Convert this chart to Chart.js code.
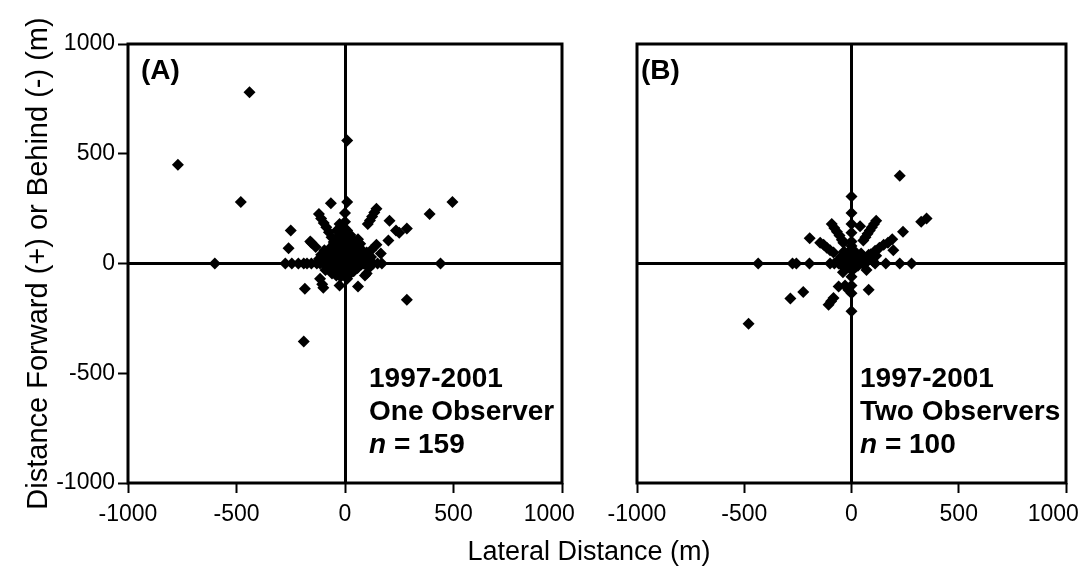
<!DOCTYPE html>
<html>
<head>
<meta charset="utf-8">
<script src="https://cdn.jsdelivr.net/npm/chart.js@4/dist/chart.umd.min.js"></script>
<style>
  body { margin: 0; background: #fff; width: 1085px; height: 581px; position: relative; overflow: hidden; }
  canvas { position: absolute; top: 0; }
  #xtitle { position: absolute; left: 0; width: 1178px; top: 536px; text-align: center;
            font: 27px "Liberation Sans", Arial, sans-serif; color: #000; }
</style>
</head>
<body>
<canvas id="chartA" width="590" height="581" style="left:0"></canvas>
<canvas id="chartB" width="495" height="581" style="left:590px"></canvas>
<div id="xtitle">Lateral Distance (m)</div>
<script>
const tickValues = [-1000, -500, 0, 500, 1000];
const yTitle = 'Distance Forward (+) or Behind (-) (m)';
const panelLabels = ['(A)', '(B)'];
const panelNotes = [['1997-2001', 'One Observer', '159'], ['1997-2001', 'Two Observers', '100']];

// panel A: one observer, [lateral, forward] in metres
const oneObserver = [
  [-440, 780], [-770, 450], [-480, 280], [10, 560], [-600, 0], [440, 0], [495, 280], [390, 225],
  [285, -165], [-190, -355], [-185, -115], [-250, 150], [-260, 70], [-65, 275], [10, 280],
  [205, 195], [285, 160], [250, 140], [200, 105], [145, 85], [165, 45], [235, 150],
  [145, 250], [135, 232], [125, 214], [115, 196], [105, 180],
  [-120, 225], [-110, 205], [-98, 185], [-86, 165], [-74, 142], [-62, 120], [-52, 98],
  [-38, 150], [-155, 95], [-135, 75], [-160, 100],
  [-115, -70], [-105, -95], [-100, -110], [-60, -45], [-25, -100], [60, -105], [92, -55], [100, -45], [45, -10],
  [-275, 0], [-245, 0], [-215, 0], [-190, 0], [-175, 0], [-155, 0], [-130, 0], [-115, 0], [-100, 0], [-85, 0], [-70, 0],
  [85, 0], [110, 0], [130, 0], [150, 0], [170, 0], [60, 0],
  [0, 230], [0, 190], [0, 160], [0, 135], [0, 110],
  [100, 50], [60, 90], [70, 90], [120, 30], [90, 20],
  [-90, 10], [-80, 25], [-70, 5], [-65, 40], [-55, 20], [-50, 60], [-45, -10], [-40, 35], [-35, 80],
  [-30, 15], [-25, 50], [-20, 100], [-20, -20], [-15, 30], [-10, 70], [-10, 5], [-5, 110], [-5, -30],
  [0, 50], [0, 20], [0, 85], [5, -10], [5, 120], [10, 35], [12, 65], [15, 5], [18, 95], [20, -25],
  [22, 45], [25, 20], [28, 75], [30, -5], [32, 110], [35, 55], [38, 15], [40, -35], [42, 85], [45, 30],
  [48, 60], [50, 5], [55, 40], [58, -20], [62, 70], [65, 15], [70, 45], [75, -5], [80, 25], [85, 55],
  [-75, -20], [-60, -30], [-50, 90], [-35, -35], [-85, 45], [-95, 30], [-30, 120], [-15, 140], [10, 150],
  [25, 130], [-45, 110], [40, 100], [60, 110], [-100, 20], [100, 20], [-70, 70], [-40, -55], [20, -50],
  [-60, 0], [-45, 0], [-30, 0], [-15, 0], [15, 0], [30, 0], [45, 0], [-80, -10], [75, 30], [-25, 180],
  [-120, 20], [-110, 40], [110, -20], [-90, -30], [-20, -60], [10, -70], [120, 60], [-95, 60]
];

// panel B: two observers
const twoObservers = [
  [225, 400], [-480, -275], [0, 305], [0, 230], [0, 140], [0, -218], [-435, 0], [-257, 0], [-196, 0],
  [-275, 0], [-100, 0], [-80, 0], [110, 0], [160, 0], [225, 0], [280, 0], [-60, 0],
  [350, 205], [325, 190], [240, 145], [190, 110], [195, 60], [-195, 115], [-225, -130], [-285, -160],
  [-107, -188], [-95, -172], [-84, -157], [-60, -105], [80, -120], [70, -30], [0, -135], [-15, -120],
  [-30, -100], [0, -60], [0, -100],
  [-92, 180], [-80, 162], [-68, 145], [-56, 128], [-45, 108], [-38, 95],
  [-146, 95], [-130, 85], [-115, 72], [-100, 60], [-84, 50],
  [115, 195], [105, 180], [95, 165], [85, 150], [75, 135], [65, 120], [55, 105], [40, 170],
  [170, 95], [150, 85], [130, 72], [110, 58], [90, 42], [115, 35],
  [0, 100], [0, 80], [0, 180],
  [-40, 10], [-30, 30], [-20, 5], [-15, 45], [-10, 20], [-5, 60], [0, 10], [5, 35], [10, 0], [15, 25],
  [20, 50], [25, 10], [30, -10], [35, 30], [40, 15], [50, 5], [55, -5], [-50, -5], [-25, -15], [-10, -20],
  [10, -25], [20, -15], [45, 45], [60, 20], [-35, 55], [-50, 30], [75, 10], [80, 40], [-60, 15], [100, 10],
  [60, 0], [-40, -40]
];

const FONT = '"Liberation Sans", Arial, sans-serif';

const framePlugin = {
  id: 'frame',
  afterDatasetsDraw(chart, args, opts) {
    const { ctx, chartArea: a } = chart;
    ctx.save();
    ctx.strokeStyle = '#000';
    ctx.lineWidth = 3;
    ctx.strokeRect(a.left, a.top, a.right - a.left, a.bottom - a.top);
    // panel notes
    ctx.fillStyle = '#000';
    ctx.textBaseline = 'top';
    ctx.font = 'bold 28px ' + FONT;
    ctx.fillText(opts.label, a.left + opts.labelX, 57);
    const lines = opts.notes;
    ctx.fillText(lines[0], a.left + opts.noteX, 365);
    ctx.fillText(lines[1], a.left + opts.noteX, 398);
    ctx.font = 'italic bold 28px ' + FONT;
    ctx.fillText('n', a.left + opts.noteX, 431);
    const w = ctx.measureText('n').width;
    ctx.font = 'bold 28px ' + FONT;
    ctx.fillText(' = ' + lines[2], a.left + opts.noteX + w, 431);
    ctx.restore();
  }
};

function gridOpts(drawTicks) {
  return {
    color: c => (c.tick && c.tick.value === 0) ? '#000' : 'rgba(0,0,0,0)',
    lineWidth: 3,
    drawTicks: drawTicks,
    tickLength: 10,
    tickColor: '#000',
    tickWidth: 2
  };
}

function makePanel(id, data, idx, yWidth, padRight, showY) {
  return new Chart(document.getElementById(id), {
    type: 'scatter',
    data: {
      datasets: [{
        data: data.map(p => ({ x: p[0], y: p[1] })),
        pointStyle: 'rectRot',
        pointRadius: 6,
        backgroundColor: '#000',
        borderColor: '#000',
        borderWidth: 0
      }]
    },
    options: {
      responsive: false,
      animation: false,
      devicePixelRatio: 1,
      layout: { padding: { top: 44, right: padRight, left: 0, bottom: 0 } },
      plugins: {
        legend: { display: false },
        tooltip: { enabled: false },
        frame: { label: panelLabels[idx], notes: panelNotes[idx], labelX: idx === 0 ? 13 : 4, noteX: idx === 0 ? 241 : 223 }
      },
      scales: {
        x: {
          type: 'linear', min: -1000, max: 1000,
          afterBuildTicks: s => { s.ticks = tickValues.map(v => ({ value: v })); },
          ticks: {
            color: '#000', font: { size: 23, family: FONT }, padding: 8, maxRotation: 0,
            // last label sits a little left of its tick in the original
            callback: v => v === 1000 ? '1000    ' : String(v)
          },
          grid: gridOpts(true),
          border: { display: false },
          afterFit: s => { s.height = 581 - 483; s.paddingLeft = 0; s.paddingRight = 0; }
        },
        y: {
          type: 'linear', min: -1000, max: 1000,
          afterBuildTicks: s => { s.ticks = tickValues.map(v => ({ value: v })); },
          ticks: { display: showY, color: '#000', font: { size: 23, family: FONT }, padding: 3, callback: v => String(v) },
          grid: gridOpts(showY),
          border: { display: false },
          title: { display: showY, text: yTitle, color: '#000', font: { size: 29, family: FONT }, padding: { top: 22, bottom: 0 } },
          afterFit: s => { s.width = yWidth; s.paddingTop = 0; s.paddingBottom = 0; }
        }
      }
    },
    plugins: [framePlugin]
  });
}

makePanel('chartA', oneObserver, 0, 128, 28, true);
makePanel('chartB', twoObservers, 1, 47, 19, false);
</script>
</body>
</html>
